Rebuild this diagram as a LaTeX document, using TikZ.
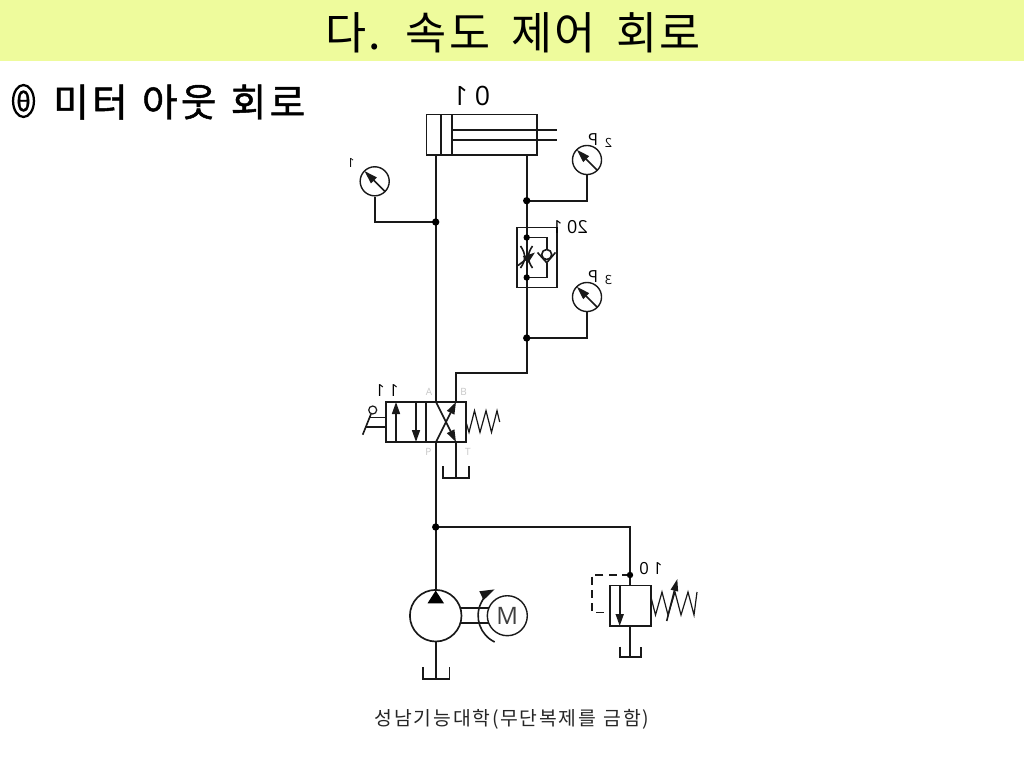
\documentclass[tikz,border=0pt]{standalone}
\usepackage{fontspec}
\setmainfont{Open Sans}
\newfontfamily\krtitle[LetterSpace=5,WordSpace=1.7]{Noto Sans CJK KR}
\newfontfamily\krsub[FakeBold=1.2,LetterSpace=8.5,WordSpace=1.2]{Noto Sans CJK KR}
\newfontfamily\krsym[FakeBold=1.2]{Noto Sans CJK KR}
\newfontfamily\krfoot[LetterSpace=9,WordSpace=1.2]{Noto Sans CJK KR}
\usetikzlibrary{arrows.meta,shapes.geometric}
\definecolor{band}{RGB}{238,251,156}
\definecolor{ln}{RGB}{25,25,25}
\tikzset{
  x=0.75pt,y=-0.75pt,
  pipe/.style={draw=ln,line width=1.2pt,line join=miter},
  thin pipe/.style={draw=ln,line width=0.9pt},
  flowarrow/.style={pipe,-{Stealth[length=9pt,width=6pt,inset=0pt]}},
  dotn/.style={circle,fill=black,inner sep=0pt,minimum size=5.5pt},
  gaugen/.style={circle,draw=ln,line width=1.05pt,fill=white,inner sep=0pt,minimum size=21.8pt},
  needle/.style={pipe,-{Stealth[length=10pt,width=6pt,inset=0pt]}},
  portl/.style={font=\fontsize{7.5}{9}\selectfont,text=black!22,inner sep=0pt},
  mirl/.style={font=\fontsize{12.5}{14}\selectfont,inner sep=0pt},
  mirs/.style={font=\fontsize{9.5}{10}\selectfont,inner sep=0pt},
  tankp/.style={pipe}
}
\begin{document}
\begin{tikzpicture}
\useasboundingbox (0,0) rectangle (1024,768);
\fill[white] (0,0) rectangle (1024,768);
\fill[band] (0,0) rectangle (1024,61);
\node[inner sep=0pt,anchor=center,font=\krtitle\fontsize{33.5}{38}\selectfont] (title) at (513,33) {다. 속도 제어 회로};
\node[ellipse,draw=black,line width=1.7pt,inner sep=0pt,minimum width=12.5pt,minimum height=24pt,font=\krsym\fontsize{19}{20}\selectfont] (sym) at (23.5,101) {θ};
\node[inner sep=0pt,anchor=west,font=\krsub\fontsize{29}{32}\selectfont] (sub) at (53,102) {미터 아웃 회로};
\node[inner sep=0pt,font=\krfoot\fontsize{14.5}{17}\selectfont,text=black!85] (foot) at (512,719) {성남기능대학(무단복제를 금함)};
% coordinates
\coordinate (jl) at (435.7,222);
\coordinate (jr) at (526.7,200.7);
\coordinate (jr2) at (526.7,338);
\coordinate (jm) at (435.7,527);
\coordinate (jv) at (630,575);
% cylinder
\draw[pipe] (426.3,114.3) rectangle (536.7,154.7);
\draw[pipe] (441,114.3) -- (441,154.7) (451.7,114.3) -- (451.7,154.7);
\draw[pipe] (451.7,129.7) -- (556.7,129.7) (451.7,139.7) -- (556.7,139.7);
\node[mirl,font=\fontsize{20}{22}\selectfont] (l01) at (471.5,96) {\reflectbox{0 1}};
% main lines
\draw[pipe] (435.7,154.7) -- (435.7,402);
\draw[pipe] (526.7,154.7) -- (526.7,227.3);
\draw[pipe] (526.7,287.3) -- (526.7,373) -- (456,373) -- (456,402);
\draw[pipe] (435.7,442) -- (435.7,591);
\draw[pipe] (jm) -- (630,527) -- (630,585.3);
% gauges
\node[gaugen] (g1) at (374.7,181.3) {};
\draw[needle] (384.7,191.3) -- (364.5,171);
\draw[pipe] (g1.south) |- (jl);
\node[mirs] at (351,163) {\reflectbox{1}};
\node[gaugen] (g2) at (587,160) {};
\draw[needle] (597,170) -- (576.8,149.7);
\draw[pipe] (g2.south) |- (jr);
\node[mirl] at (593,139.5) {\reflectbox{P}};
\node[mirs] at (608.5,142.5) {\reflectbox{2}};
\node[gaugen] (g3) at (587,297) {};
\draw[needle] (597,307) -- (576.8,286.7);
\draw[pipe] (g3.south) |- (jr2);
\node[mirl] at (593,277) {\reflectbox{P}};
\node[mirs] at (608.5,280) {\reflectbox{3}};
% junctions
\node[dotn] at (jl) {};
\node[dotn] at (jr) {};
\node[dotn] at (jr2) {};
\node[dotn] at (jm) {};
% flow control
\draw[pipe] (516.7,227.3) rectangle (556.7,287.3);
\draw[pipe] (526.7,227.3) -- (526.7,287.3);
\node[dotn,minimum size=4.8pt] (d1) at (526.7,237.5) {};
\node[dotn,minimum size=4.8pt] (d2) at (526.7,277.5) {};
\draw[pipe] (d1) -- (546.7,237.5) -- (546.7,249.5);
\draw[pipe] (d2) -- (546.7,277.5) -- (546.7,262.7);
\draw[pipe] (546.7,254.5) circle[radius=5];
\draw[pipe] (537.5,252.5) -- (546.7,262.7) -- (555.5,252.5);
\draw[pipe] (520.5,246) .. controls (526,254) and (526,260) .. (520.5,268);
\draw[pipe] (532.5,246) .. controls (527,254) and (527,260) .. (532.5,268);
\draw[flowarrow] (518,265.5) -- (535,252.5);
\node[inner sep=0pt,font=\fontsize{13.5}{16}\selectfont] at (570,227.5) {\reflectbox{20 1}};
% valve
\draw[pipe] (386,402) rectangle (466,442);
\draw[draw=ln,line width=1.5pt] (426,402) -- (426,442);
\draw[flowarrow] (396,442) -- (396,402);
\draw[flowarrow] (416,402) -- (416,442);
\draw[flowarrow] (436,402) -- (456,442);
\draw[flowarrow] (436,442) -- (456,402);
\draw[pipe] (456,442) -- (456,478);
\draw[tankp] (443,466) -- (443,478) -- (469,478) -- (469,466);
\draw[thin pipe] (466,422) -- (469,432.3) -- (474.5,410.7) -- (480,432.3) -- (486,410.7) -- (491.5,432.3) -- (497,410.7) -- (499.7,422);
\draw[pipe] (386,417.3) -- (370.2,417.3) (386,426.7) -- (366.2,426.7);
\draw[pipe] (362.7,434.7) -- (371,414);
\node[circle,draw=ln,line width=0.9pt,inner sep=0pt,minimum size=6pt] (lv) at (372.7,410) {};
\node[mirl] at (387,391) {\reflectbox{1 1}};
\node[portl] at (429,392) {A};
\node[portl] at (463.5,392) {B};
\node[portl] at (428.5,451.5) {P};
\node[portl] at (468,451.5) {T};
% pump
\node[circle,draw=ln,line width=1.25pt,inner sep=0pt,minimum size=38.7pt] (pump) at (435.7,615.7) {};
\fill[black] (435.7,590.5) -- (444,603.3) -- (427.5,603.3) -- cycle;
\draw[pipe] (pump.south) -- (435.7,679);
\draw[tankp] (422.7,667) -- (422.7,679) -- (449.3,679) -- (449.3,667);
\draw[pipe] (460,607.7) -- (489,607.7) (460,623) -- (489,623);
\node[circle,draw=ln,line width=1.05pt,inner sep=0pt,minimum size=30pt,font=\fontsize{18}{20}\selectfont,text=black!75] (motor) at (507.3,615.7) {M};
\draw[pipe,-{Stealth[length=11pt,width=7pt,inset=0pt]}] (494.7,642) arc[start angle=115.6,end angle=244.4,radius=29.2];
% relief
\draw[pipe] (609.7,585.3) rectangle (650.7,626);
\draw[flowarrow] (619.7,585.3) -- (619.7,626);
\draw[pipe] (630,626) -- (630,656.7);
\draw[tankp] (619.7,646.7) -- (619.7,656.7) -- (640.7,656.7) -- (640.7,646.7);
\draw[pipe,dash pattern=on 6pt off 4pt] (jv) -- (591.7,575) -- (591.7,612.3) -- (609.7,612.3);
\node[dotn,minimum size=4.8pt] at (jv) {};
\draw[thin pipe] (650.7,596) -- (655.5,615) -- (662,592) -- (668,615) -- (675,592) -- (681,615) -- (688,592) -- (694,615) -- (697,592);
\draw[pipe,-{Stealth[length=9pt,width=5.5pt,inset=0pt]}] (666.7,621) -- (677.3,579);
\node[mirl] at (651,569) {\reflectbox{1 0}};
\end{tikzpicture}
\end{document}
